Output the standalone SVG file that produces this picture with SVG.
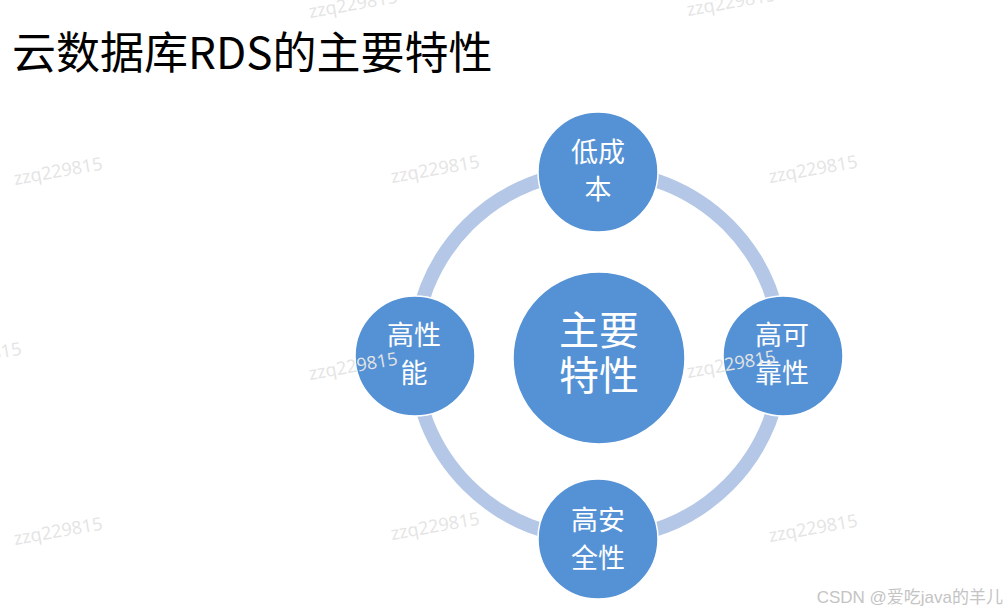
<svg xmlns="http://www.w3.org/2000/svg" width="1008" height="615" viewBox="0 0 1008 615">
<style>
.wm{font-family:"Open Sans","Noto Sans",sans-serif;font-size:18px;fill:#e4e4e4}
.node{fill:#5592d5;stroke:#ffffff;stroke-width:1.5}
.lbl{font-family:"Noto Sans CJK SC","Noto Sans",sans-serif;fill:#ffffff;text-anchor:middle}
.s{font-size:27px}
.b{font-size:40px}
</style>
<rect width="1008" height="615" fill="#ffffff"/>
<text x="12" y="69" font-family="'Noto Sans CJK SC','Noto Sans',sans-serif" font-size="44" fill="#000000">云数据库RDS的主要特性</text>
<g id="connectors">
<circle cx="598" cy="355" r="184" fill="none" stroke="#b4c7e7" stroke-width="14"/>
</g>
<g id="center">
<circle class="node" cx="599" cy="358" r="86"/>
<text class="lbl b"><tspan x="599" y="345">主要</tspan><tspan x="599" y="390">特性</tspan></text>
</g>
<g id="top">
<circle class="node" cx="598" cy="172" r="60"/>
<text class="lbl s"><tspan x="598" y="162">低成</tspan><tspan x="598" y="199">本</tspan></text>
</g>
<g id="left">
<circle class="node" cx="415" cy="356" r="60"/>
<text class="lbl s"><tspan x="414" y="345">高性</tspan><tspan x="414" y="383">能</tspan></text>
</g>
<g id="right">
<circle class="node" cx="783" cy="356" r="60"/>
<text class="lbl s"><tspan x="782" y="345">高可</tspan><tspan x="782" y="383">靠性</tspan></text>
</g>
<g id="bottom">
<circle class="node" cx="598" cy="539" r="60"/>
<text class="lbl s"><tspan x="598" y="530">高安</tspan><tspan x="598" y="568">全性</tspan></text>
</g>
<g id="watermarks">
<text class="wm" transform="translate(310,18) rotate(-10)">zzq229815</text>
<text class="wm" transform="translate(688,16) rotate(-10)">zzq229815</text>
<text class="wm" transform="translate(15,185) rotate(-10)">zzq229815</text>
<text class="wm" transform="translate(392,183) rotate(-10)">zzq229815</text>
<text class="wm" transform="translate(770,183) rotate(-10)">zzq229815</text>
<text class="wm" transform="translate(-66,370) rotate(-10)">zzq229815</text>
<text class="wm" transform="translate(310,380) rotate(-10)">zzq229815</text>
<text class="wm" transform="translate(688,378) rotate(-10)">zzq229815</text>
<text class="wm" transform="translate(15,545) rotate(-10)">zzq229815</text>
<text class="wm" transform="translate(392,540) rotate(-10)">zzq229815</text>
<text class="wm" transform="translate(770,542) rotate(-10)">zzq229815</text>
</g>
<text x="1003" y="603" text-anchor="end" font-family="'Liberation Sans','Noto Sans CJK SC',sans-serif" font-size="17" fill="#c4c4c4">CSDN @爱吃java的羊儿</text>
</svg>
